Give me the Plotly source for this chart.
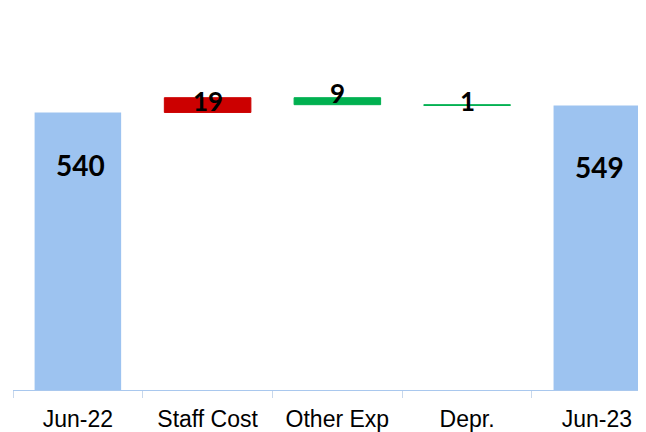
import plotly.graph_objects as go

categories = ["Jun-22", "Staff Cost", "Other Exp", "Depr.", "Jun-23"]
measures = ["absolute", "relative", "relative", "relative", "total"]
values = [540, 19, -9, -1, 549]
labels = ["540", "19", "9", "1", "549"]

trace_values = [v if m != "total" else 0 for v, m in zip(values, measures)]

fig = go.Figure(go.Waterfall(
    x=categories,
    measure=measures,
    y=trace_values,
    width=0.667,
    textposition="none",
    connector=dict(visible=False),
    increasing=dict(marker=dict(color="#CC0000", line=dict(color="#CC0000", width=1))),
    decreasing=dict(marker=dict(color="#00B050", line=dict(color="#00B050", width=1))),
    totals=dict(marker=dict(color="#9DC3F0")),
    hoverinfo="skip",
))

# bar tops for label placement
tops = []
run = 0
for v, m in zip(values, measures):
    if m == "absolute":
        run = v
        tops.append(v)
    elif m == "total":
        tops.append(run)
    else:
        tops.append(max(run, run + v))
        run += v

shifts = [-53, -3, 5, 4, -62]
annotations = []
for i, (c, m, t, lab) in enumerate(zip(categories, measures, tops, labels)):
    big = m in ("absolute", "total")
    annotations.append(dict(
        x=c, y=t, text=lab, showarrow=False, yshift=shifts[i], xshift=3 if big else 0,
        font=dict(family="Lato", size=28 if big else 26, color="black", weight="bold")))

fig.update_layout(
    width=638, height=424,
    margin=dict(l=5, r=0, t=0, b=40),
    paper_bgcolor="white", plot_bgcolor="white",
    showlegend=False,
    annotations=annotations,
    xaxis=dict(
        range=[-0.5, 4.379],
        showline=True, linecolor="#A9C8EE", linewidth=1,
        ticks="outside", tickson="boundaries", tickcolor="#C8D8EC", ticklen=7,
        ticklabelstandoff=8,
        showgrid=False,
        tickfont=dict(family="Arial", size=23, color="black"),
    ),
    yaxis=dict(range=[182, 674.7], visible=False, showgrid=False, zeroline=False),
)

fig.write_html("out.html")
